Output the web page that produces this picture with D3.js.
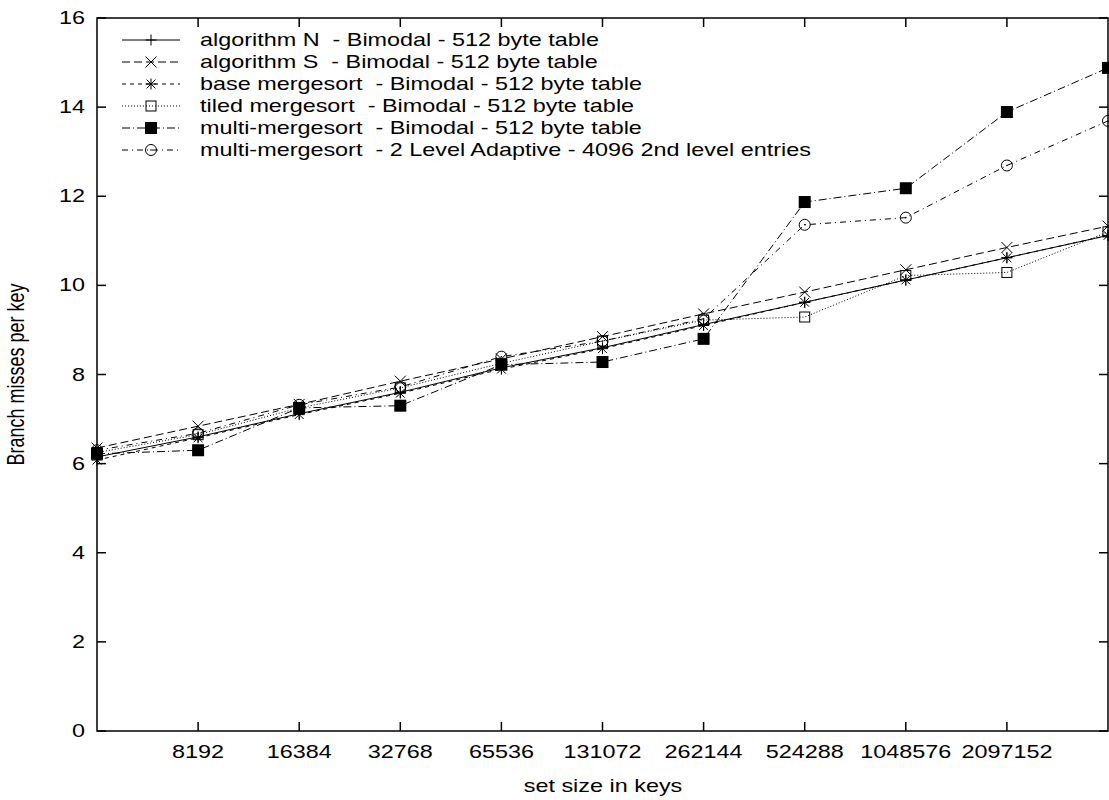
<!DOCTYPE html>
<html>
<head>
<meta charset="utf-8">
<script src="https://cdn.jsdelivr.net/npm/d3@7"></script>
<style>
  body { margin: 0; background: #fff; }
  text { font-family: "Liberation Sans", Arial, Helvetica, sans-serif; fill: #000; white-space: pre; }
</style>
</head>
<body>
<div id="chart"></div>
<script>
// set sizes (log2 axis)
const keys = [4096, 8192, 16384, 32768, 65536, 131072, 262144, 524288, 1048576, 2097152, 4194304];
const xTickLabels = [8192, 16384, 32768, 65536, 131072, 262144, 524288, 1048576, 2097152];
const yTicks = [0, 2, 4, 6, 8, 10, 12, 14, 16];

const algoN      = [6.15, 6.60, 7.12, 7.60, 8.15, 8.60, 9.12, 9.62, 10.12, 10.62, 11.12];
const algoS      = [6.35, 6.84, 7.33, 7.85, 8.35, 8.85, 9.36, 9.85, 10.35, 10.85, 11.33];
const baseMerge  = [6.08, 6.58, 7.10, 7.58, 8.12, 8.58, 9.10, 9.62, 10.12, 10.62, 11.12];
const tiledMerge = [6.25, 6.65, 7.25, 7.70, 8.25, 8.75, 9.22, 9.29, 10.22, 10.29, 11.20];
const multiBimodal = [6.22, 6.30, 7.25, 7.30, 8.22, 8.28, 8.80, 11.87, 12.18, 13.89, 14.88];
const multiTwoLevel = [6.30, 6.68, 7.32, 7.72, 8.40, 8.75, 9.25, 11.36, 11.52, 12.69, 13.69];

const seriesNames = [
  "algorithm N  - Bimodal - 512 byte table",
  "algorithm S  - Bimodal - 512 byte table",
  "base mergesort  - Bimodal - 512 byte table",
  "tiled mergesort  - Bimodal - 512 byte table",
  "multi-mergesort  - Bimodal - 512 byte table",
  "multi-mergesort  - 2 Level Adaptive - 4096 2nd level entries"
];
const seriesValues = [algoN, algoS, baseMerge, tiledMerge, multiBimodal, multiTwoLevel];
const dashes = ["none", "8,4", "4,4", "1,2", "8,3,1,3", "6,4,1,4"];
const markers = ["plus", "cross", "star", "box", "fbox", "circle"];

const W = 1109, H = 800;
const m = { left: 97, right: 1, top: 18, bottom: 69 };
const sx = 1.3; // le texte est étiré horizontalement
const fs = 18;

const svg = d3.select("#chart").append("svg")
  .attr("width", W).attr("height", H);

const x = d3.scaleLog().base(2).domain([4096, 4194304]).range([m.left, W - m.right]);
const y = d3.scaleLinear().domain([0, 16]).range([H - m.bottom, m.top]);

function label(px, py, str, anchor, extra) {
  return svg.append("text")
    .attr("transform", `translate(${px},${py}) scale(${sx},1)` + (extra || ""))
    .attr("text-anchor", anchor).attr("font-size", fs).text(str);
}

// cadre
svg.append("rect")
  .attr("x", m.left).attr("y", m.top)
  .attr("width", W - m.right - m.left).attr("height", H - m.bottom - m.top)
  .attr("fill", "none").attr("stroke", "#000").attr("stroke-width", 1.5);

// graduations
const tl = 9;
yTicks.forEach(v => {
  svg.append("line").attr("x1", m.left).attr("x2", m.left + tl)
    .attr("y1", y(v)).attr("y2", y(v)).attr("stroke", "#000").attr("stroke-width", 1.5);
  svg.append("line").attr("x1", W - m.right - tl).attr("x2", W - m.right)
    .attr("y1", y(v)).attr("y2", y(v)).attr("stroke", "#000").attr("stroke-width", 1.5);
  label(85, y(v) + 6, v, "end");
});
xTickLabels.forEach(v => {
  svg.append("line").attr("x1", x(v)).attr("x2", x(v))
    .attr("y1", H - m.bottom).attr("y2", H - m.bottom - tl).attr("stroke", "#000").attr("stroke-width", 1.5);
  svg.append("line").attr("x1", x(v)).attr("x2", x(v))
    .attr("y1", m.top).attr("y2", m.top + tl).attr("stroke", "#000").attr("stroke-width", 1.5);
  label(x(v), 758, v, "middle");
});

// titres des axes
label(603, 792, "set size in keys", "middle");
svg.append("text")
  .attr("transform", `translate(24,${(m.top + H - m.bottom) / 2}) scale(${sx},1) rotate(-90)`)
  .attr("text-anchor", "middle").attr("font-size", fs).text("Branch misses per key");

// dessine un marqueur
function drawMarker(g, type, cx, cy) {
  const s = 5.5;
  const line = (x1, y1, x2, y2) => g.append("line")
    .attr("x1", x1).attr("y1", y1).attr("x2", x2).attr("y2", y2)
    .attr("stroke", "#000").attr("stroke-width", 1);
  if (type === "plus" || type === "star") {
    line(cx - s, cy, cx + s, cy); line(cx, cy - s, cx, cy + s);
  }
  if (type === "cross" || type === "star") {
    const d = type === "star" ? s * 0.8 : s;
    line(cx - d, cy - d, cx + d, cy + d); line(cx - d, cy + d, cx + d, cy - d);
  }
  if (type === "box") {
    g.append("rect").attr("x", cx - 5).attr("y", cy - 5).attr("width", 10).attr("height", 10)
      .attr("fill", "none").attr("stroke", "#000").attr("stroke-width", 1);
  }
  if (type === "fbox") {
    g.append("rect").attr("x", cx - 6).attr("y", cy - 6).attr("width", 12).attr("height", 12)
      .attr("fill", "#000");
  }
  if (type === "circle") {
    g.append("circle").attr("cx", cx).attr("cy", cy).attr("r", 5.5)
      .attr("fill", "none").attr("stroke", "#000").attr("stroke-width", 1);
    g.append("circle").attr("cx", cx).attr("cy", cy).attr("r", 0.8).attr("fill", "#000");
  }
}

const lineGen = d3.line().x(d => x(d.k)).y(d => y(d.v));

seriesValues.forEach((vals, i) => {
  const pts = keys.map((k, j) => ({ k, v: vals[j] }));
  const g = svg.append("g");
  g.append("path").datum(pts)
    .attr("d", lineGen)
    .attr("fill", "none").attr("stroke", "#000").attr("stroke-width", 1)
    .attr("stroke-dasharray", dashes[i]);
  pts.forEach(p => drawMarker(g, markers[i], x(p.k), y(p.v)));

  // légende
  const ly = 40 + i * 22;
  g.append("line").attr("x1", 122).attr("x2", 180).attr("y1", ly).attr("y2", ly)
    .attr("stroke", "#000").attr("stroke-width", 1).attr("stroke-dasharray", dashes[i]);
  drawMarker(g, markers[i], 151, ly);
  svg.append("text")
    .attr("transform", `translate(200,${ly + 6}) scale(${sx},1)`)
    .attr("font-size", fs).text(seriesNames[i]);
});
</script>
</body>
</html>
